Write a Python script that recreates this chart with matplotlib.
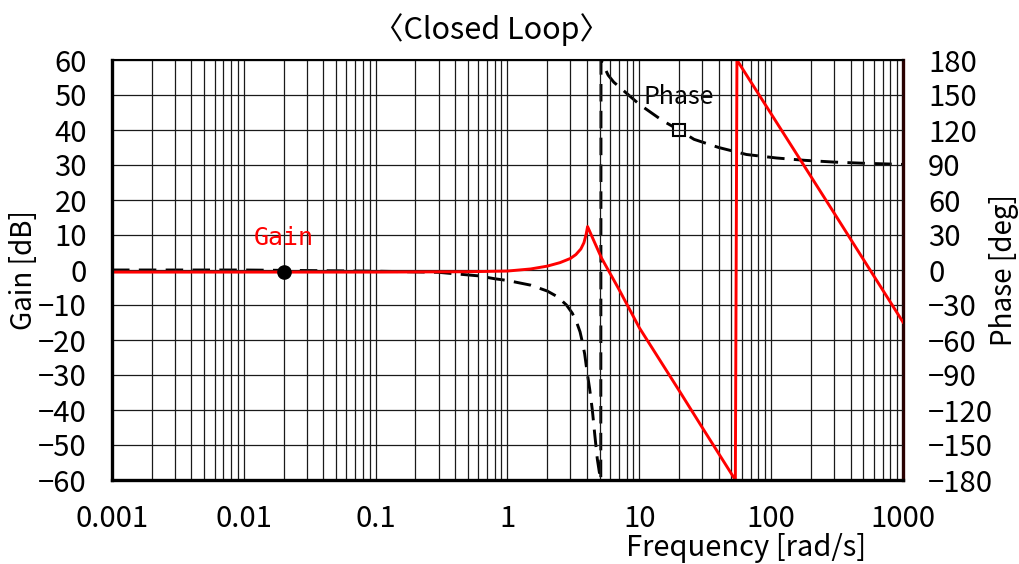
import matplotlib
matplotlib.use("Agg")
import matplotlib.pyplot as plt
from matplotlib.ticker import FixedLocator, NullFormatter

plt.rcParams['font.family'] = ['Noto Sans CJK JP', 'DejaVu Sans']

# Gain curve (red)
gain_freq = [0.001, 0.01, 0.1, 0.5, 1.0, 1.5, 2.0, 2.5, 3.0, 3.3, 3.6, 3.8, 3.95,
             4.05, 4.5, 5.17, 7.0, 10.0, 20.0, 30.0, 53.5, 55.0, 100.0, 300.0, 1000.0]
gain_db = [-0.6, -0.6, -0.6, -0.5, -0.3, 0.3, 1.1, 2.1, 3.3, 4.4, 6.0, 7.8, 10.2,
           12.4, 8.5, 3.4, -5.5, -16.5, -34.4, -45.0, -60.0, 60.0, 44.6, 16.3, -14.9]

# Phase curve (black dashed)
phase_freq = [0.001, 0.01, 0.1, 0.3, 0.6, 0.8, 1.0, 1.5, 2.0, 2.4, 2.8, 3.1, 3.35,
              3.55, 3.7, 3.85, 4.0, 4.2, 4.4, 4.6, 4.8, 5.0, 5.1, 5.12, 5.8, 6.4,
              10.0, 15.0, 20.0, 26.0, 40.0, 65.0, 110.0, 180.0, 300.0, 500.0, 1000.0]
phase_deg = [0, 0, -1, -2, -5, -7.5, -9, -13, -18, -23, -30, -37, -45,
             -53, -62, -72, -86, -102, -120, -142, -162, -175, -180, 180, 167, 161,
             142, 128, 120, 112, 105, 99, 96, 94, 92.5, 91.5, 90.5]

# marker positions
gain_mark = (0.02, -0.6)
phase_mark = (20.0, 120.0)

x_ticks = [0.001, 0.01, 0.1, 1, 10, 100, 1000]
x_labels = ["0.001", "0.01", "0.1", "1", "10", "100", "1000"]
gain_ticks = list(range(-60, 61, 10))
phase_ticks = list(range(-180, 181, 30))

fig = plt.figure(figsize=(10.2, 5.64), dpi=100)
ax = fig.add_axes([112 / 1020, 1 - 480 / 564, (903 - 112) / 1020, 420 / 564])
ax2 = ax.twinx()

# gain on top of phase
ax.set_zorder(ax2.get_zorder() + 1)
ax.patch.set_visible(False)

ax.set_xscale('log')
ax.set_xlim(0.001, 1000)
ax.set_ylim(-60, 60)
ax2.set_ylim(-180, 180)

# grid lines
minor = [m * d for d in x_ticks[:-1] for m in range(2, 10)]
ax.xaxis.set_major_locator(FixedLocator(x_ticks))
ax.xaxis.set_minor_locator(FixedLocator(minor))
ax.xaxis.set_minor_formatter(NullFormatter())
ax.set_xticklabels(x_labels)
ax.set_yticks(gain_ticks)
ax2.set_yticks(phase_ticks)
ax.grid(True, which='both', axis='x', color='#1a1a1a', lw=0.9)
ax.grid(True, which='major', axis='y', color='#1a1a1a', lw=0.9)

ax.tick_params(axis='x', which='both', length=0, pad=17, labelsize=21)
ax.tick_params(axis='y', length=0, pad=18, labelsize=21)
ax2.tick_params(axis='y', length=0, pad=18, labelsize=21)

# lines
ax2.plot(phase_freq, phase_deg, color='black', lw=2.1, linestyle=(0, (6, 3.2)))
ax2.plot(*phase_mark, marker='s', ms=8.5, mfc='white', mec='black', mew=1.5)
ax.plot(gain_freq, gain_db, color='red', lw=2.1)
ax.plot(*gain_mark, marker='o', ms=9.5, color='black')

ax.text(0.02, 9.2, 'Gain', color='red', fontsize=18, ha='center', va='center',
        family=['DejaVu Sans Mono'])
ax2.text(20.0, 148, 'Phase', color='black', fontsize=18, ha='center', va='center')

# spines
for s in ['left', 'bottom']:
    ax.spines[s].set_linewidth(2.4)
ax.spines['top'].set_linewidth(1.5)
ax2.spines['right'].set_linewidth(2.4)
ax2.spines['right'].set_color('#2a0000')
for s in ['left', 'bottom', 'top']:
    ax2.spines[s].set_visible(False)
ax.spines['right'].set_visible(False)

fig.text(492 / 1020, 1 - 30 / 564, '〈Closed Loop〉', ha='center', va='center', fontsize=22)
fig.text(24 / 1020, 1 - 270 / 564, 'Gain [dB]', rotation=90, ha='center', va='center', fontsize=20)
fig.text(1004 / 1020, 1 - 270 / 564, 'Phase [deg]', rotation=90, ha='center', va='center', fontsize=20)
fig.text(746 / 1020, 1 - 548 / 564, 'Frequency [rad/s]', ha='center', va='center', fontsize=21)

fig.savefig('out.png', dpi=100)
